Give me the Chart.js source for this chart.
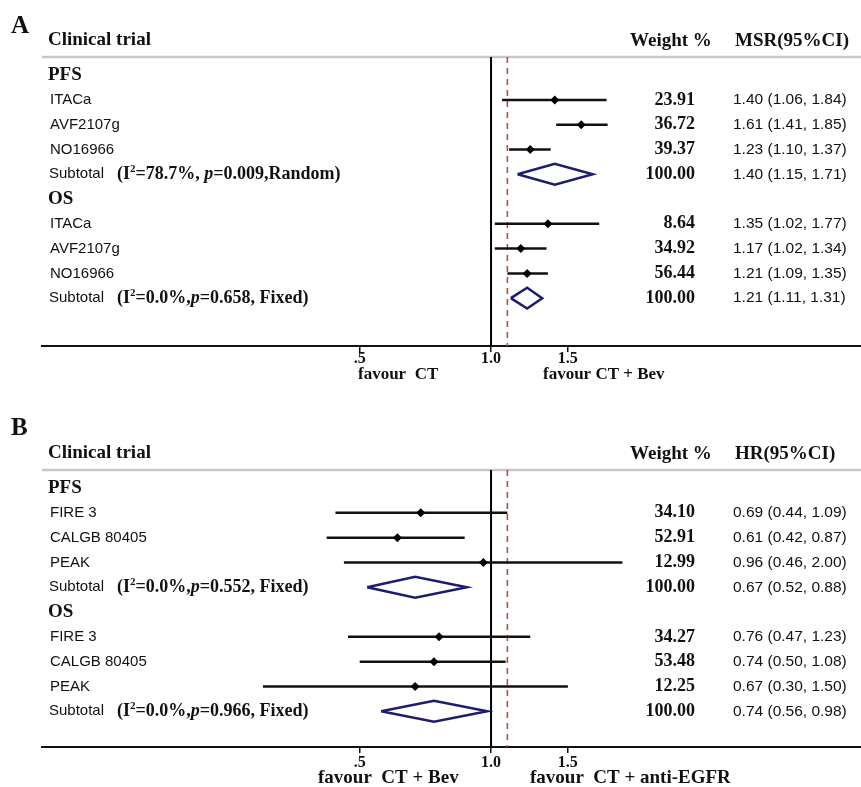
<!DOCTYPE html>
<html><head><meta charset="utf-8">
<script src="https://cdn.jsdelivr.net/npm/chart.js@4.4.1/dist/chart.umd.min.js"></script>
<style>
html,body{margin:0;padding:0;background:#fff;}
#wrapA{position:absolute;left:0;top:0;width:861px;height:393px;}
#wrapB{position:absolute;left:0;top:393px;width:861px;height:394px;}
canvas{display:block}
</style></head><body>
<div id="wrapA"><canvas id="cA" width="861" height="393"></canvas></div>
<div id="wrapB"><canvas id="cB" width="861" height="394"></canvas></div>
<script>
// ---------- shared ----------
const REF_LINE = 1.09;
const tickValues = [0.5, 1.0, 1.5];
const tickLabels = ['.5', '1.0', '1.5'];
const groupNames = ['PFS', 'OS'];

// ---------- Panel A (MSR) ----------
const trialsA  = ['ITACa', 'AVF2107g', 'NO16966', 'ITACa', 'AVF2107g', 'NO16966'];
const estA     = [1.40, 1.61, 1.23, 1.35, 1.17, 1.21];
const lowA     = [1.06, 1.41, 1.10, 1.02, 1.02, 1.09];
const highA    = [1.84, 1.85, 1.37, 1.77, 1.34, 1.35];
const weightA  = ['23.91', '36.72', '39.37', '8.64', '34.92', '56.44'];
const subEstA  = [1.40, 1.21];
const subLowA  = [1.15, 1.11];
const subHighA = [1.71, 1.31];
const subWeightA = ['100.00', '100.00'];
const subI2A   = ['=78.7%, ', '=0.0%,'];
const subPA    = ['=0.009,Random)', '=0.658, Fixed)'];

// ---------- Panel B (HR) ----------
const trialsB  = ['FIRE 3', 'CALGB 80405', 'PEAK', 'FIRE 3', 'CALGB 80405', 'PEAK'];
const estB     = [0.69, 0.61, 0.96, 0.76, 0.74, 0.67];
const lowB     = [0.44, 0.42, 0.46, 0.47, 0.50, 0.30];
const highB    = [1.09, 0.87, 2.00, 1.23, 1.08, 1.50];
const weightB  = ['34.10', '52.91', '12.99', '34.27', '53.48', '12.25'];
const subEstB  = [0.67, 0.74];
const subLowB  = [0.52, 0.56];
const subHighB = [0.88, 0.98];
const subWeightB = ['100.00', '100.00'];
const subI2B   = ['=0.0%,', '=0.0%,'];
const subPB    = ['=0.552, Fixed)', '=0.966, Fixed)'];

const SERIF = '"Liberation Serif", "Times New Roman", serif';
const SANS  = '"Liberation Sans", Arial, sans-serif';
const XMIN = 0.0935, XMAX = 7.046;
const DH = 0.42;

function rowOf(i) { return Math.floor(i / 3) * 5 + 1 + (i % 3); }

function drawStats(ctx, x, y, i2, p) {
  ctx.textAlign = 'left'; ctx.textBaseline = 'middle';
  ctx.font = 'bold 18px ' + SERIF; ctx.fillText('(I', x, y); x += ctx.measureText('(I').width;
  ctx.font = 'bold 11px ' + SERIF; ctx.fillText('2', x, y - 5); x += ctx.measureText('2').width;
  ctx.font = 'bold 18px ' + SERIF; ctx.fillText(i2, x, y); x += ctx.measureText(i2).width;
  ctx.font = 'italic bold 18px ' + SERIF; ctx.fillText('p', x, y); x += ctx.measureText('p').width;
  ctx.font = 'bold 18px ' + SERIF; ctx.fillText(p, x, y);
}

function makePanel(canvasId, c) {
  const ds = [];
  ds.push({
    data: c.est.map((v, i) => ({ x: v, y: rowOf(i) })),
    showLine: false, pointStyle: 'rectRot', pointRadius: 4.5,
    pointBackgroundColor: '#000', pointBorderColor: '#000', pointBorderWidth: 0
  });
  c.est.forEach((v, i) => ds.push({
    data: [{ x: c.low[i], y: rowOf(i) }, { x: c.high[i], y: rowOf(i) }],
    borderColor: '#111', borderWidth: 2.5, pointRadius: 0
  }));
  c.subEst.forEach((v, g) => {
    const r = g * 5 + 4;
    ds.push({
      data: [{ x: c.subLow[g], y: r }, { x: v, y: r - DH }, { x: c.subHigh[g], y: r }, { x: v, y: r + DH }, { x: c.subLow[g], y: r }],
      borderColor: '#1d1d6e', borderWidth: 2.5, pointRadius: 0, fill: false, borderJoinStyle: 'miter'
    });
  });
  ds.push({ data: [{ x: 1, y: c.yMin }, { x: 1, y: c.yMax }], borderColor: '#000', borderWidth: 2, pointRadius: 0 });
  ds.push({ data: [{ x: REF_LINE, y: c.yMin }, { x: REF_LINE, y: c.yMax }], borderColor: '#a0574b', borderWidth: 1.6, borderDash: [6, 5], pointRadius: 0 });

  const textPlugin = {
    id: 'forestText',
    beforeDatasetsDraw(chart) {
      const ctx = chart.ctx, a = chart.chartArea;
      ctx.save();
      ctx.strokeStyle = '#c6c6c6'; ctx.lineWidth = 2.5;
      ctx.beginPath(); ctx.moveTo(a.left, a.top); ctx.lineTo(a.right, a.top); ctx.stroke();
      ctx.restore();
    },
    afterDraw(chart) {
      const ctx = chart.ctx, ya = chart.scales.y, a = chart.chartArea;
      ctx.save();
      ctx.fillStyle = '#111';
      // panel letter and headers
      ctx.textBaseline = 'alphabetic'; ctx.textAlign = 'left';
      ctx.font = 'bold 25px ' + SERIF; ctx.fillText(c.letter, 11, c.letterY);
      ctx.font = 'bold 19px ' + SERIF;
      ctx.fillText('Clinical trial', 48, a.top - 12);
      ctx.fillText('Weight %', 630, a.top - 11);
      ctx.fillText(c.effHeader, 735, a.top - 11);
      // rows
      groupNames.forEach((gname, g) => {
        ctx.textBaseline = 'middle'; ctx.textAlign = 'left';
        ctx.font = 'bold 19px ' + SERIF;
        ctx.fillText(gname, 48, ya.getPixelForValue(g * 5));
        const rs = ya.getPixelForValue(g * 5 + 4);
        ctx.font = '15px ' + SANS;
        ctx.fillText('Subtotal', 49, rs);
        drawStats(ctx, 117, rs, c.subI2[g], c.subP[g]);
        ctx.textAlign = 'right'; ctx.font = 'bold 18px ' + SERIF;
        ctx.fillText(c.subWeight[g], 695, rs);
        ctx.textAlign = 'left'; ctx.font = '15.5px ' + SANS;
        ctx.fillText(c.subEst[g].toFixed(2) + ' (' + c.subLow[g].toFixed(2) + ', ' + c.subHigh[g].toFixed(2) + ')', 733, rs);
      });
      c.trials.forEach((t, i) => {
        const y = ya.getPixelForValue(rowOf(i));
        ctx.textBaseline = 'middle';
        ctx.textAlign = 'left'; ctx.font = '15px ' + SANS;
        ctx.fillText(t, 50, y);
        ctx.textAlign = 'right'; ctx.font = 'bold 18px ' + SERIF;
        ctx.fillText(c.weight[i], 695, y);
        ctx.textAlign = 'left'; ctx.font = '15.5px ' + SANS;
        ctx.fillText(c.est[i].toFixed(2) + ' (' + c.low[i].toFixed(2) + ', ' + c.high[i].toFixed(2) + ')', 733, y);
      });
      // favour labels
      ctx.textBaseline = 'alphabetic'; ctx.textAlign = 'left';
      ctx.font = 'bold ' + c.favSize + 'px ' + SERIF;
      ctx.fillText(c.favLeft, c.favLeftX, c.favY);
      ctx.fillText(c.favRight, c.favRightX, c.favY);
      ctx.restore();
    }
  };

  return new Chart(document.getElementById(canvasId), {
    type: 'line',
    data: { datasets: ds },
    plugins: [textPlugin],
    options: {
      responsive: false, animation: false, events: [],
      layout: { autoPadding: false, padding: { left: 42, right: 0, top: c.top, bottom: 0 } },
      plugins: { legend: { display: false }, tooltip: { enabled: false } },
      scales: {
        x: {
          type: 'logarithmic', min: XMIN, max: XMAX, position: 'bottom',
          afterBuildTicks: s => { s.ticks = tickValues.map(v => ({ value: v })); },
          afterFit: s => { s.height = c.axisH; },
          ticks: {
            callback: (v, i) => tickLabels[i],
            font: { family: SERIF, size: 16, weight: 'bold' }, color: '#111',
            padding: c.tickPad, autoSkip: false, maxRotation: 0
          },
          grid: { display: true, drawOnChartArea: false, drawTicks: true, tickLength: 6, color: '#111', lineWidth: 1.5 },
          border: { display: true, color: '#111', width: 2 }
        },
        y: { type: 'linear', display: false, reverse: true, min: c.yMin, max: c.yMax }
      }
    }
  });
}

makePanel('cA', {
  letter: 'A', letterY: 33, effHeader: 'MSR(95%CI)',
  trials: trialsA, est: estA, low: lowA, high: highA, weight: weightA,
  subEst: subEstA, subLow: subLowA, subHigh: subHighA, subWeight: subWeightA, subI2: subI2A, subP: subPA,
  top: 57, axisH: 47, yMin: -0.73, yMax: 10.93, tickPad: -3,
  favSize: 17, favLeft: 'favour  CT', favLeftX: 358, favRight: 'favour CT + Bev', favRightX: 543, favY: 379
});
makePanel('cB', {
  letter: 'B', letterY: 42, effHeader: 'HR(95%CI)',
  trials: trialsB, est: estB, low: lowB, high: highB, weight: weightB,
  subEst: subEstB, subLow: subLowB, subHigh: subHighB, subWeight: subWeightB, subI2: subI2B, subP: subPB,
  top: 77, axisH: 40, yMin: -0.726, yMax: 10.44, tickPad: 0,
  favSize: 19, favLeft: 'favour  CT + Bev', favLeftX: 318, favRight: 'favour  CT + anti-EGFR', favRightX: 530, favY: 390
});
</script>
</body></html>
